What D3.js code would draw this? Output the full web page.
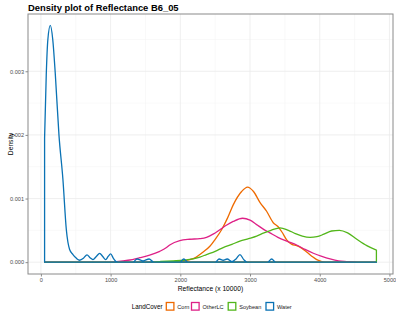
<!DOCTYPE html>
<html>
<head>
<meta charset="utf-8">
<script src="https://cdn.jsdelivr.net/npm/d3@7"></script>
<style>
  body { margin: 0; background: #fff; }
  svg { display: block; font-family: "Liberation Sans", Arial, sans-serif; }
</style>
</head>
<body>
<svg id="chart" width="396" height="317"></svg>
<script>
"use strict";

// --- data ---
const groups = ["Corn", "OtherLC", "Soybean", "Water"];
const colors = ["#EE6A00", "#DE2187", "#52B61A", "#0A72B4"];

const cornX = [53, 1700, 1900, 2050, 2135, 2230, 2280, 2328, 2424, 2500, 2592, 2680, 2759, 2879, 2965, 3050, 3142, 3238, 3333, 3400, 3460, 3526, 3600, 3669, 3740, 3813, 3890, 3957, 4030, 4100, 4813];
const cornY = [0, 0, 0.00001, 0.00002, 0.00004, 0.00008, 0.00012, 0.00016, 0.00025, 0.00036, 0.00051, 0.0007, 0.0009, 0.00111, 0.00118, 0.00111, 0.00094, 0.0008, 0.00062, 0.00056, 0.00047, 0.00035, 0.00028, 0.00026, 0.00022, 0.00016, 0.00009, 0.00004, 0.00001, 0, 0];

const otherX = [53, 900, 1083, 1250, 1418, 1560, 1705, 1802, 1848, 1993, 2135, 2280, 2376, 2470, 2567, 2660, 2759, 2893, 3000, 3095, 3190, 3286, 3400, 3526, 3669, 3790, 3908, 4030, 4148, 4270, 4388, 4550, 4813];
const otherY = [0, 0, 0.00001, 0.00003, 0.00007, 0.00011, 0.00017, 0.00023, 0.00027, 0.00034, 0.00036, 0.00037, 0.00039, 0.00044, 0.00051, 0.00058, 0.00064, 0.00069, 0.00066, 0.00059, 0.00052, 0.00046, 0.00039, 0.00033, 0.00027, 0.0002, 0.00014, 0.00009, 0.00005, 0.00002, 0.00001, 0, 0];

const soyX = [53, 1500, 1700, 1897, 2050, 2184, 2280, 2376, 2500, 2615, 2740, 2855, 2980, 3095, 3200, 3300, 3430, 3550, 3650, 3750, 3861, 3960, 4060, 4170, 4282, 4400, 4532, 4675, 4813];
const soyY = [0, 0, 0.00001, 0.00002, 0.00003, 0.00005, 0.00008, 0.00012, 0.00017, 0.00023, 0.00028, 0.00033, 0.00037, 0.00041, 0.00046, 0.0005, 0.00054, 0.0005, 0.00045, 0.00041, 0.00039, 0.0004, 0.00044, 0.00049, 0.0005, 0.00046, 0.00036, 0.00026, 0.00019];

const waterX = [53, 77, 100, 135, 170, 207, 259, 316, 365, 412, 460, 510, 556, 610, 661, 705, 747, 795, 843, 887, 930, 965, 1001, 1040, 1080, 1130, 1320, 1379, 1465, 1552, 1620, 1990, 2050, 2110, 2500, 2557, 2615, 2672, 2740, 2800, 2855, 2910, 2960, 3250, 3310, 3370, 4813];
const waterY = [0.00195, 0.00295, 0.0035, 0.00372, 0.0035, 0.00295, 0.002, 0.0013, 0.00051, 0.0002, 0.00012, 0.00006, 0.00003, 0.00006, 0.000116, 0.00007, 0.00004, 0.00009, 0.000137, 0.00009, 0.00004, 0.00009, 0.00013, 0.00006, 0.00001, 0, 0, 0.00005, 0.00002, 0.00005, 0, 0, 0.00005, 0, 0, 0.00005, 0.00003, 0.00005, 0.00001, 0.00005, 0.00012, 0.00004, 0, 0, 0.00005, 0, 0];

const xTicks = [0, 1000, 2000, 3000, 4000, 5000];
const yTicks = [0, 0.001, 0.002, 0.003];

const series = [
  {name: "Corn", xs: cornX, ys: cornY},
  {name: "OtherLC", xs: otherX, ys: otherY},
  {name: "Soybean", xs: soyX, ys: soyY},
  {name: "Water", xs: waterX, ys: waterY}
];

// --- layout ---
const svg = d3.select("#chart");
const panel = {left: 28, right: 393, top: 14, bottom: 274};

const x = d3.scaleLinear().domain([-185, 5051]).range([panel.left, panel.right]);
const y = d3.scaleLinear().domain([-0.000186, 0.0039]).range([panel.bottom, panel.top]);
const color = d3.scaleOrdinal(groups, colors);

// grid
const grid = svg.append("g");
const xMinor = d3.range(500, 5001, 1000);
const yMinor = [0.0005, 0.0015, 0.0025, 0.0035];
grid.selectAll(".vmin").data(xMinor).join("line")
  .attr("x1", d => x(d)).attr("x2", d => x(d))
  .attr("y1", panel.top).attr("y2", panel.bottom)
  .attr("stroke", "#f3f3f3").attr("stroke-width", 0.5);
grid.selectAll(".hmin").data(yMinor).join("line")
  .attr("x1", panel.left).attr("x2", panel.right)
  .attr("y1", d => y(d)).attr("y2", d => y(d))
  .attr("stroke", "#f3f3f3").attr("stroke-width", 0.5);
grid.selectAll(".vmaj").data(xTicks).join("line")
  .attr("x1", d => x(d)).attr("x2", d => x(d))
  .attr("y1", panel.top).attr("y2", panel.bottom)
  .attr("stroke", "#ebebeb").attr("stroke-width", 0.8);
grid.selectAll(".hmaj").data(yTicks).join("line")
  .attr("x1", panel.left).attr("x2", panel.right)
  .attr("y1", d => y(d)).attr("y2", d => y(d))
  .attr("stroke", "#ebebeb").attr("stroke-width", 0.8);

// density outlines (closed like ggplot's polygon outline)
const line = d3.line()
  .x(d => x(d[0]))
  .y(d => y(d[1]))
  .curve(d3.curveMonotoneX);

series.forEach(s => {
  const pts = s.xs.map((v, i) => [v, s.ys[i]]);
  const first = pts[0], last = pts[pts.length - 1];
  const curve = line(pts);
  const path = `M${x(first[0])},${y(0)}L` + curve.slice(1) +
    `L${x(last[0])},${y(0)}Z`;
  svg.append("path")
    .attr("d", path)
    .attr("fill", "none")
    .attr("stroke", color(s.name))
    .attr("stroke-width", 1.3)
    .attr("stroke-linejoin", "round");
});

// panel border
svg.append("rect")
  .attr("x", panel.left).attr("y", panel.top)
  .attr("width", panel.right - panel.left).attr("height", panel.bottom - panel.top)
  .attr("fill", "none").attr("stroke", "#8a8a8a").attr("stroke-width", 1);

// axes
const xAxis = svg.append("g")
  .attr("transform", `translate(0,${panel.bottom})`)
  .call(d3.axisBottom(x).tickValues(xTicks).tickFormat(d3.format("d")).tickSize(2.5).tickPadding(2));
const yAxis = svg.append("g")
  .attr("transform", `translate(${panel.left},0)`)
  .call(d3.axisLeft(y).tickValues(yTicks).tickFormat(d3.format(".3f")).tickSize(2.5).tickPadding(1.5));
[xAxis, yAxis].forEach(g => {
  g.select(".domain").remove();
  g.selectAll(".tick line").attr("stroke", "#8a8a8a");
  g.selectAll(".tick text")
    .attr("fill", "#4d4d4d")
    .style("font-size", "5.6px")
    .style("font-family", "'Liberation Sans', Arial, sans-serif");
});

// titles
svg.append("text")
  .attr("x", panel.left).attr("y", 10.5)
  .style("font-size", "9.4px").style("font-weight", "bold")
  .text("Density plot of Reflectance B6_05");

svg.append("text")
  .attr("x", (panel.left + panel.right) / 2).attr("y", 291)
  .attr("text-anchor", "middle")
  .style("font-size", "6.7px")
  .text("Reflectance (x 10000)");

svg.append("text")
  .attr("transform", `translate(12.5,${(panel.top + panel.bottom) / 2}) rotate(-90)`)
  .attr("text-anchor", "middle")
  .style("font-size", "6.7px")
  .text("Density");

// legend
const legend = svg.append("g").attr("transform", "translate(0,306.5)");
legend.append("text")
  .attr("x", 131.7).attr("y", 2.4)
  .style("font-size", "6.3px")
  .text("LandCover");
const keyX = [166.3, 191.5, 228.2, 266];
groups.forEach((g, i) => {
  legend.append("rect")
    .attr("x", keyX[i]).attr("y", -4)
    .attr("width", 7.6).attr("height", 7.6)
    .attr("fill", "#fff")
    .attr("stroke", color(g))
    .attr("stroke-width", 1.3);
  legend.append("text")
    .attr("x", keyX[i] + 11).attr("y", 2)
    .style("font-size", "5.6px")
    .attr("fill", "#1a1a1a")
    .text(g);
});
</script>
</body>
</html>
